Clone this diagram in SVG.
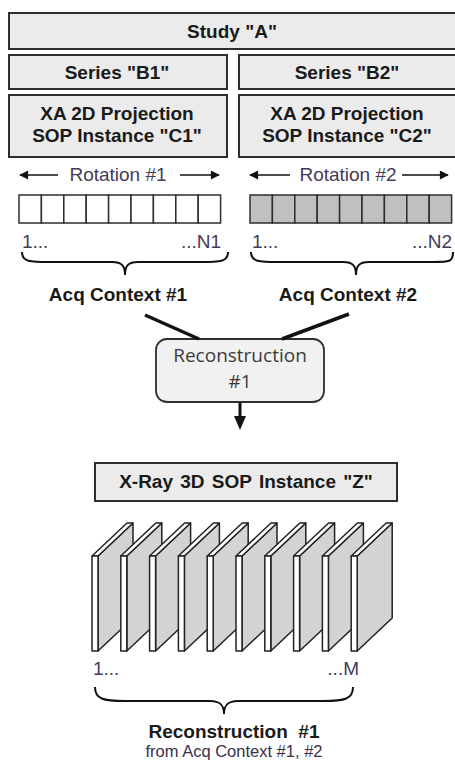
<svg xmlns="http://www.w3.org/2000/svg" width="455" height="763" viewBox="0 0 455 763">
  <style>
    .box { fill: #ebebeb; stroke: #2e2e2e; stroke-width: 2; }
    .hd { font-family: "Liberation Sans", Arial, sans-serif; font-weight: bold; font-size: 19px; fill: #1a1a1a; text-anchor: middle; }
    .lbl { font-family: "Liberation Sans", Arial, sans-serif; font-size: 19px; fill: #463a58; }
    .cell { stroke: #2e2e2e; stroke-width: 1.5; }
    .brace { fill: none; stroke: #111; stroke-width: 2; }
    .thin { stroke: #111; stroke-width: 1.6; }
    .slab-front { fill: #ffffff; stroke: #222; stroke-width: 1.5; stroke-linejoin: round; }
    .slab-side { fill: #d3d3d3; stroke: #222; stroke-width: 1.5; stroke-linejoin: round; }
    .rec { font-family: "Open Sans", sans-serif; font-size: 19px; fill: #3c3c3c; text-anchor: middle; }
  </style>
  <defs>
    <marker id="ah" viewBox="0 0 10 10" refX="9" refY="5" markerWidth="11" markerHeight="9" markerUnits="userSpaceOnUse" orient="auto">
      <path d="M0,0 L10,5 L0,10 z" fill="#111"/>
    </marker>
    <!-- one frame slab: white front edge, white top bevel, grey face -->
    <g id="slab">
      <polygon class="slab-side" points="6,0 41,-33 41,62 6,95"/>
      <polygon class="slab-front" points="0,0 35,-33 41,-33 6,0"/>
      <rect class="slab-front" x="0" y="0" width="6" height="95"/>
    </g>
  </defs>

  <rect width="455" height="763" fill="#ffffff"/>

  <!-- hierarchy boxes -->
  <g id="study">
    <rect class="box" x="9" y="13" width="452" height="36"/>
    <text class="hd" x="232" y="38">Study "A"</text>
  </g>
  <g id="series-b1">
    <rect class="box" x="9" y="55" width="218" height="34"/>
    <text class="hd" x="117" y="79">Series "B1"</text>
  </g>
  <g id="series-b2">
    <rect class="box" x="239" y="55" width="222" height="34"/>
    <text class="hd" x="347" y="79">Series "B2"</text>
  </g>
  <g id="sop-c1">
    <rect class="box" x="9" y="95" width="218" height="62"/>
    <text class="hd" x="117" y="120">XA 2D Projection</text>
    <text class="hd" x="117" y="142">SOP Instance "C1"</text>
  </g>
  <g id="sop-c2">
    <rect class="box" x="239" y="95" width="222" height="62"/>
    <text class="hd" x="347" y="120">XA 2D Projection</text>
    <text class="hd" x="347" y="142">SOP Instance "C2"</text>
  </g>

  <!-- rotation 1 frames -->
  <g id="rotation-1">
    <line class="thin" x1="58" y1="175" x2="20" y2="175" marker-end="url(#ah)"/>
    <text class="lbl" x="118" y="181" text-anchor="middle">Rotation #1</text>
    <line class="thin" x1="180" y1="175" x2="219" y2="175" marker-end="url(#ah)"/>
    <g fill="#ffffff" class="cell">
      <rect x="19" y="195" width="22.4" height="28"/>
      <rect x="41.4" y="195" width="22.4" height="28"/>
      <rect x="63.8" y="195" width="22.4" height="28"/>
      <rect x="86.2" y="195" width="22.4" height="28"/>
      <rect x="108.6" y="195" width="22.4" height="28"/>
      <rect x="131" y="195" width="22.4" height="28"/>
      <rect x="153.4" y="195" width="22.4" height="28"/>
      <rect x="175.8" y="195" width="22.4" height="28"/>
      <rect x="198.2" y="195" width="22.4" height="28"/>
    </g>
    <text class="lbl" x="22" y="248">1...</text>
    <text class="lbl" x="221" y="248" text-anchor="end">...N1</text>
    <path class="brace" d="M22,252 C22,262 30,262 50,262 L112,262 C122,262 125,266 125,275 C125,266 128,262 138,262 L200,262 C220,262 228,262 228,252"/>
    <text class="hd" x="118" y="301">Acq Context #1</text>
  </g>

  <!-- rotation 2 frames -->
  <g id="rotation-2">
    <line class="thin" x1="290" y1="175" x2="250" y2="175" marker-end="url(#ah)"/>
    <text class="lbl" x="348" y="181" text-anchor="middle">Rotation #2</text>
    <line class="thin" x1="402" y1="175" x2="448" y2="175" marker-end="url(#ah)"/>
    <g fill="#c0c0c0" class="cell">
      <rect x="250" y="195" width="22.4" height="28"/>
      <rect x="272.4" y="195" width="22.4" height="28"/>
      <rect x="294.8" y="195" width="22.4" height="28"/>
      <rect x="317.2" y="195" width="22.4" height="28"/>
      <rect x="339.6" y="195" width="22.4" height="28"/>
      <rect x="362" y="195" width="22.4" height="28"/>
      <rect x="384.4" y="195" width="22.4" height="28"/>
      <rect x="406.8" y="195" width="22.4" height="28"/>
      <rect x="429.2" y="195" width="22.4" height="28"/>
    </g>
    <text class="lbl" x="252" y="248">1...</text>
    <text class="lbl" x="452" y="248" text-anchor="end">...N2</text>
    <path class="brace" d="M251,252 C251,262 259,262 279,262 L343,262 C353,262 356,266 356,275 C356,266 359,262 369,262 L432,262 C450,262 453,262 453,252"/>
    <text class="hd" x="348" y="301">Acq Context #2</text>
  </g>

  <!-- reconstruction step -->
  <g id="reconstruction">
    <rect x="156" y="339" width="168" height="63" rx="11" ry="11" fill="#f1f1f1" stroke="#2e2e2e" stroke-width="1.8"/>
    <text class="rec" x="240" y="362">Reconstruction</text>
    <text class="rec" x="240" y="388">#1</text>
  </g>

  <!-- connectors -->
  <g id="connectors" stroke="#111" stroke-linecap="butt">
    <line x1="145" y1="315" x2="199" y2="339" stroke-width="3.5"/>
    <line x1="349" y1="314" x2="282" y2="339" stroke-width="3.5"/>
    <line x1="240" y1="402" x2="240" y2="418" stroke-width="3"/>
    <polygon points="234,416 246,416 240,430" fill="#111" stroke="none"/>
  </g>

  <!-- 3D volume instance -->
  <g id="xray-3d">
    <rect class="box" x="95" y="463" width="302" height="38"/>
    <text class="hd" x="246" y="488" word-spacing="2">X-Ray 3D SOP Instance "Z"</text>
  </g>

  <g id="frames-3d">
    <use href="#slab" x="92" y="556"/>
    <use href="#slab" x="120.8" y="556"/>
    <use href="#slab" x="149.6" y="556"/>
    <use href="#slab" x="178.4" y="556"/>
    <use href="#slab" x="207.2" y="556"/>
    <use href="#slab" x="236" y="556"/>
    <use href="#slab" x="264.8" y="556"/>
    <use href="#slab" x="293.6" y="556"/>
    <use href="#slab" x="322.4" y="556"/>
    <use href="#slab" x="351.2" y="556"/>
    <text class="lbl" x="93" y="675">1...</text>
    <text class="lbl" x="359" y="675" text-anchor="end">...M</text>
    <path class="brace" d="M95,687 C95,699 103,701 125,701 L210,701 C220,701 224,705 224,714 C224,705 228,701 238,701 L323,701 C345,701 353,699 353,687"/>
    <text class="hd" x="234" y="738" font-size="18.5">Reconstruction&#160; #1</text>
    <text x="234" y="757" text-anchor="middle" font-family="Liberation Sans, Arial, sans-serif" font-size="16.5" fill="#3a3048">from Acq Context #1, #2</text>
  </g>
</svg>
